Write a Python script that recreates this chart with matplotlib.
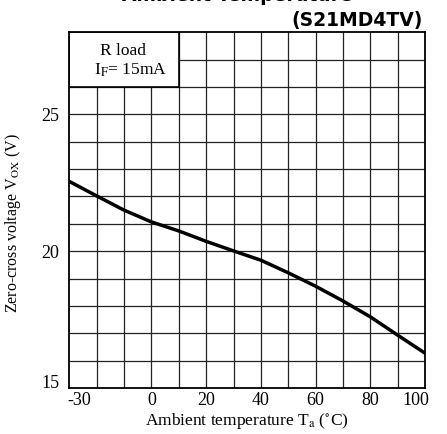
import matplotlib
matplotlib.use('Agg')
import matplotlib.pyplot as plt
import matplotlib.transforms as mtransforms
from matplotlib.patches import Rectangle

# curve (S21MD4TV, R load, IF=15mA)
temp = [-30, -20, -10, 0, 10, 20, 30, 40, 50, 60, 70, 80, 90, 100]
vox = [22.55, 22.02, 21.50, 21.07, 20.74, 20.36, 20.01, 19.67, 19.21, 18.72, 18.18, 17.60, 16.93, 16.27]

xticks = [-30, 0, 20, 40, 60, 80, 100]
xlabels = ['-30', '0', '20', '40', '60', '80', '100']
yticks = [15, 20, 25]

plt.rcParams['font.family'] = ['Liberation Serif', 'DejaVu Serif']
plt.rcParams['mathtext.fontset'] = 'stix'

fig = plt.figure(figsize=(4.47, 4.34), dpi=100)
ax = fig.add_axes([0.155, 0.106, 0.796, 0.8196])

ax.set_xlim(-30, 100)
ax.set_ylim(15, 28)

# fine grid: every 10 C, every 1 V
for t in range(-20, 100, 10):
    ax.axvline(t, color='#222222', lw=0.9, zorder=1)
for v in range(16, 28):
    ax.axhline(v, color='#222222', lw=0.9, zorder=1)

# condition box in the top-left corner
ax.add_patch(Rectangle((-30, 26), 40, 2, facecolor='white', edgecolor='black',
                       lw=1.2, zorder=2))
ax.text(-10.5, 27.3, 'R load', ha='center', va='center', fontsize=12.5, zorder=3)
ax.text(-7.5, 26.6, r'I$_\mathrm{F}$= 15mA', ha='center', va='center', fontsize=12.5, zorder=3)

ax.plot(temp, vox, color='black', lw=2.5, zorder=4)

ax.set_xticks(xticks)
ax.set_yticks(yticks)
ax.set_xticklabels(xlabels)
ax.tick_params(length=0, labelsize=13)
ax.tick_params(axis='x', pad=3)
ax.tick_params(axis='y', pad=7)
for s in ax.spines.values():
    s.set_linewidth(1.3)
    s.set_zorder(5)

# end labels sit inside the frame in the reference
xl = ax.get_xticklabels()
xl[0].set_transform(xl[0].get_transform() + mtransforms.ScaledTranslation(7/72, 0, fig.dpi_scale_trans))
xl[-1].set_transform(xl[-1].get_transform() + mtransforms.ScaledTranslation(-7/72, 0, fig.dpi_scale_trans))
yl = ax.get_yticklabels()
yl[0].set_transform(yl[0].get_transform() + mtransforms.ScaledTranslation(0, 5/72, fig.dpi_scale_trans))

ax.set_xlabel(r'Ambient temperature T$_{\rm a}$ ($^{\circ}$C)', fontsize=12.5, labelpad=1)
ax.set_ylabel(r'Zero-cross voltage V$_{\rm OX}$ (V)', fontsize=11.5)
ax.yaxis.set_label_coords(-0.13, 0.463)

fig.text(0.946, 0.939, '(S21MD4TV)', ha='right', va='baseline', fontsize=13.5,
         fontweight='bold', family=['DejaVu Sans'])
fig.text(0.53, 0.997, 'Ambient Temperature', ha='center', va='baseline', fontsize=13.5,
         fontweight='bold', family=['DejaVu Sans'])

fig.savefig('out.png', dpi=100)
